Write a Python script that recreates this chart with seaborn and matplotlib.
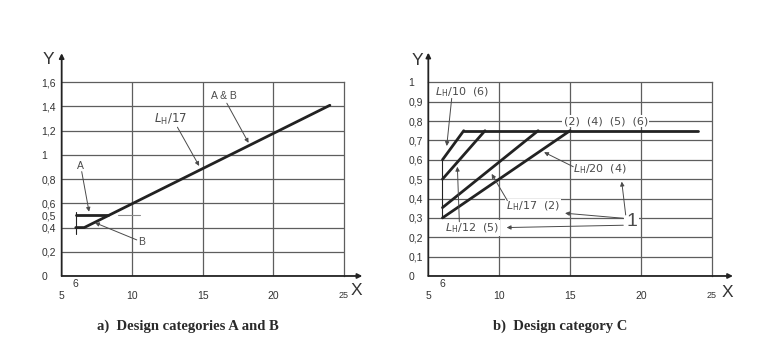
import matplotlib
matplotlib.use("Agg")
import matplotlib.pyplot as plt
import seaborn as sns
import pandas as pd

# ---- panel a) design categories A and B ----
a_xticks = [5, 10, 15, 20, 25]
a_xlabels = ["5", "10", "15", "20", "25"]
a_yticks = [0, 0.2, 0.4, 0.5, 0.6, 0.8, 1, 1.2, 1.4, 1.6]
a_ylabels = ["0", "0,2", "0,4", "0,5", "0,6", "0,8", "1", "1,2", "1,4", "1,6"]
a_grid_x = [10, 15, 20]
a_grid_y = [0.2, 0.4, 0.6, 0.8, 1.0, 1.2, 1.4]

cat_a_x = [6, 8.3]
cat_a_y = [0.5, 0.5]
cat_b_x = [6, 6.6, 24]
cat_b_y = [0.4, 0.4, 1.41]

# ---- panel b) design category C ----
c_yticks = [0, 0.1, 0.2, 0.3, 0.4, 0.5, 0.6, 0.7, 0.8, 0.9, 1]
c_ylabels = ["0", "0,1", "0,2", "0,3", "0,4", "0,5", "0,6", "0,7", "0,8", "0,9", "1"]
c_grid_y = [0.1, 0.2, 0.3, 0.4, 0.5, 0.6, 0.7, 0.8, 0.9]

c_curves = ["LH/10", "LH/12", "LH/17", "LH/20", "max"]
c_x = [[6, 7.5], [6, 9], [6, 12.75], [6, 15], [7.5, 24]]
c_y = [[0.6, 0.75], [0.5, 0.75], [0.353, 0.75], [0.3, 0.75], [0.75, 0.75]]

sns.set_theme(style="white")
plt.rcParams["font.family"] = ["Liberation Sans", "DejaVu Sans"]
plt.rcParams["mathtext.fontset"] = "dejavusans"

GRID = "#5e5e5e"
INK = "#222222"
TXT = "#4a4a4a"

fig = plt.figure(figsize=(7.68, 3.62), dpi=100)
ax1 = fig.add_axes([0.0803, 0.2376, 0.3676, 0.5351])
ax2 = fig.add_axes([0.5577, 0.2376, 0.3690, 0.5351])


def frame(ax, ymax, yticks, ylabels, grid_y, ytop, xtip, ylab_pos, xlab_pos):
    ax.set_xlim(5, 25)
    ax.set_ylim(0, ymax)
    for g in a_grid_x:
        ax.axvline(g, color=GRID, lw=0.9, zorder=1)
    for g in grid_y:
        ax.axhline(g, color=GRID, lw=0.9, zorder=1)
    for s in ["top", "right"]:
        ax.spines[s].set_color(GRID)
        ax.spines[s].set_linewidth(0.9)
    for s in ["left", "bottom"]:
        ax.spines[s].set_visible(False)
    ax.set_xticks(a_xticks)
    ax.set_xticklabels(a_xlabels, fontsize=7.5, color="#333333")
    ax.get_xticklabels()[-1].set_fontsize(6.5)
    ax.set_yticks(yticks)
    ax.set_yticklabels(ylabels, fontsize=7.5, color="#333333")
    for lbl in ax.get_yticklabels():
        lbl.set_ha("left")
    ax.tick_params(axis="x", length=0, pad=11)
    ax.tick_params(axis="y", length=0, pad=14.5)
    arrow = dict(arrowstyle="-|>", color=INK, lw=1.3, mutation_scale=7,
                 shrinkA=0, shrinkB=0)
    ax.annotate("", xy=(5, ytop), xytext=(5, 0), arrowprops=arrow,
                annotation_clip=False)
    ax.annotate("", xy=(xtip, 0), xytext=(5, 0), arrowprops=arrow,
                annotation_clip=False)
    ax.text(ylab_pos[0], ylab_pos[1], "Y", fontsize=12.5, color="#333333",
            ha="center", va="center", clip_on=False)
    ax.text(xlab_pos[0], xlab_pos[1], "X", fontsize=12.5, color="#333333",
            ha="center", va="center", clip_on=False)
    ax.annotate("6", xy=(6, 0), xytext=(0, -6), textcoords="offset points",
                fontsize=7.5, color="#333333", ha="center", va="center",
                annotation_clip=False)


def note(ax, text, xy, start, pos, ha="center", size=8, box=False,
         family=("DejaVu Sans",)):
    kw = dict(fontsize=size, color=TXT, ha=ha, va="center",
              family=list(family))
    if box:
        kw["bbox"] = dict(boxstyle="square,pad=0.1", fc="white", ec="none")
    ax.text(pos[0], pos[1], text, zorder=4, **kw)
    if xy is not None:
        ax.annotate("", xy=xy, xytext=start, zorder=4,
                    arrowprops=dict(arrowstyle="-|>", color=TXT, lw=0.7,
                                    mutation_scale=6, shrinkA=0, shrinkB=0))


sans = ("Liberation Sans", "DejaVu Sans")

# panel a
frame(ax1, 1.6, a_yticks, a_ylabels, a_grid_y, 1.84, 26.3,
      (4.03, 1.79), (25.87, -0.116))
ax1.plot([9.0, 10.55], [0.5, 0.5], color="#8a8a8a", lw=0.8, zorder=1)
ax1.plot([6, 6], [0.35, 0.53], color=INK, lw=0.8, zorder=2)
sns.lineplot(x=cat_a_x, y=cat_a_y, ax=ax1, color=INK, lw=2.0, sort=False,
             zorder=3)
sns.lineplot(x=cat_b_x, y=cat_b_y, ax=ax1, color=INK, lw=2.0, sort=False,
             zorder=3)
note(ax1, "A", (6.94, 0.531), (6.42, 0.862), (6.3, 0.905), size=7.5,
     family=sans)
note(ax1, "B", (7.36, 0.44), (10.32, 0.298), (10.67, 0.278), size=7.5,
     family=sans)
note(ax1, r"$L_{\mathrm{H}}$/17", (14.74, 0.909), (13.2, 1.229), (12.68, 1.29),
     size=8.5)
note(ax1, "A & B", (18.24, 1.10), (16.7, 1.427), (16.46, 1.488), size=7.5,
     family=sans)

# panel b
frame(ax2, 1.0, c_yticks, c_ylabels, c_grid_y, 1.153, 26.5,
      (4.2, 1.11), (26.1, -0.085))
ax2.plot([6, 6], [0.3, 0.6], color=INK, lw=0.8, zorder=2)
df = pd.DataFrame({
    "x": [v for xs in c_x for v in xs],
    "y": [v for ys in c_y for v in ys],
    "curve": [c for c, xs in zip(c_curves, c_x) for _ in xs],
})
sns.lineplot(data=df, x="x", y="y", hue="curve", units="curve",
             estimator=None, palette=[INK] * len(c_curves), lw=2.0,
             sort=False, legend=False, ax=ax2, zorder=3)
ax2.set_xlabel("")
ax2.set_ylabel("")

note(ax2, r"$L_{\mathrm{H}}$/10  (6)", (6.3, 0.671), (6.65, 0.917),
     (5.47, 0.951), ha="left", box=True)
note(ax2, "(2)  (4)  (5)  (6)", None, None, (17.52, 0.8), box=True)
note(ax2, r"$L_{\mathrm{H}}$/20  (4)", (13.17, 0.639), (15.23, 0.564),
     (15.23, 0.551), ha="left", box=True)
note(ax2, r"$L_{\mathrm{H}}$/17  (2)", (9.47, 0.527), (10.58, 0.389),
     (10.48, 0.358), ha="left", box=True)
note(ax2, r"$L_{\mathrm{H}}$/12  (5)", (7.05, 0.564), (7.19, 0.28),
     (6.18, 0.246), ha="left", box=True)
note(ax2, "1", None, None, (19.36, 0.28), size=14, box=True, family=sans)
for tip, start in [((18.65, 0.487), (18.93, 0.315)),
                   ((14.65, 0.324), (18.76, 0.298)),
                   ((10.53, 0.25), (18.76, 0.262))]:
    ax2.annotate("", xy=tip, xytext=start, zorder=4,
                 arrowprops=dict(arrowstyle="-|>", color=TXT, lw=0.7,
                                 mutation_scale=6, shrinkA=0, shrinkB=0))

cap = dict(fontsize=10.5, fontweight="bold", color="#2a2a2a",
           family=["Liberation Serif", "DejaVu Serif"], va="center")
fig.text(97 / 768, 1 - 326 / 362, "a)  Design categories A and B", **cap)
fig.text(493 / 768, 1 - 326 / 362, "b)  Design category C", **cap)

fig.savefig("out.png", dpi=100)
